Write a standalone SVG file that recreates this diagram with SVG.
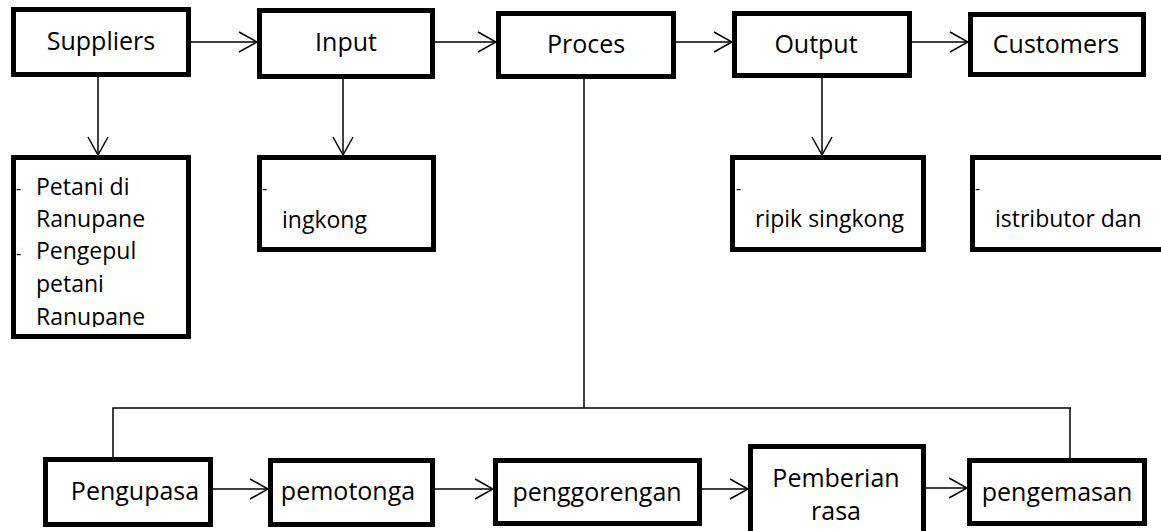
<svg xmlns="http://www.w3.org/2000/svg" width="1161" height="531" viewBox="0 0 1161 531">
<style>
.box{fill:#fff;stroke:#000;stroke-width:5}
.t{font-family:"Open Sans","Noto Sans",sans-serif;font-size:25px;fill:#000}
.s{font-family:"Open Sans","Noto Sans",sans-serif;font-size:23px;fill:#000}
.c{text-anchor:middle}
.d{font-family:"Open Sans","Noto Sans",sans-serif;font-size:16px;fill:#000}
.ln{fill:none;stroke:#000;stroke-width:1.5}
</style>
<defs>
<marker id="ah" markerUnits="userSpaceOnUse" viewBox="0 0 20 22" refX="19" refY="11" markerWidth="20" markerHeight="22" orient="auto">
<path d="M1,1 L19,11 L1,21" fill="none" stroke="#000" stroke-width="1.5"/>
</marker>
<clipPath id="clipSup"><rect x="16" y="160" width="170" height="167"/></clipPath>
</defs>
<rect width="1161" height="531" fill="#fff"/>
<g id="connectors">
<line class="ln" x1="191" y1="42" x2="257" y2="42" marker-end="url(#ah)"/>
<line class="ln" x1="435" y1="42" x2="496" y2="42" marker-end="url(#ah)"/>
<line class="ln" x1="676" y1="42" x2="732" y2="42" marker-end="url(#ah)"/>
<line class="ln" x1="912" y1="42" x2="968" y2="42" marker-end="url(#ah)"/>
<line class="ln" x1="98" y1="77" x2="98" y2="155" marker-end="url(#ah)"/>
<line class="ln" x1="343" y1="79" x2="343" y2="155" marker-end="url(#ah)"/>
<line class="ln" x1="822" y1="78" x2="822" y2="155" marker-end="url(#ah)"/>
<polyline class="ln" points="584,79 584,408"/>
<polyline class="ln" points="113,458 113,408 1071,408"/>
<line class="ln" x1="1070" y1="408" x2="1070" y2="458"/>
<line class="ln" x1="213" y1="489" x2="268" y2="489" marker-end="url(#ah)"/>
<line class="ln" x1="435" y1="489" x2="493" y2="489" marker-end="url(#ah)"/>
<line class="ln" x1="702" y1="489" x2="748" y2="489" marker-end="url(#ah)"/>
<line class="ln" x1="926" y1="488" x2="967" y2="488" marker-end="url(#ah)"/>
</g>
<g id="suppliers"><rect class="box" x="13.5" y="9.5" width="175" height="65"/><text class="t c" x="101" y="50">Suppliers</text></g>
<g id="input"><rect class="box" x="259.5" y="10.5" width="173" height="66"/><text class="t c" x="346" y="51">Input</text></g>
<g id="proces"><rect class="box" x="498.5" y="13.5" width="175" height="63"/><text class="t c" x="586" y="53">Proces</text></g>
<g id="output"><rect class="box" x="734.5" y="13.5" width="175" height="62"/><text class="t c" x="816" y="53">Output</text></g>
<g id="customers"><rect class="box" x="970.5" y="14.5" width="173" height="60"/><text class="t c" x="1056" y="53">Customers</text></g>
<g id="suppliers-detail"><rect class="box" x="13.5" y="157.5" width="175" height="179"/>
<g clip-path="url(#clipSup)">
<text class="d" x="16" y="194">-</text><text class="s" x="36" y="195">Petani di</text>
<text class="s" x="36" y="227">Ranupane</text>
<text class="d" x="16" y="259">-</text><text class="s" x="36" y="259">Pengepul</text>
<text class="s" x="36" y="292">petani</text>
<text class="s" x="36" y="325">Ranupane</text>
</g></g>
<g id="input-detail"><rect class="box" x="259.5" y="157.5" width="174" height="92"/><text class="d" x="262" y="194">-</text><text class="s" x="282" y="228">ingkong</text></g>
<g id="output-detail"><rect class="box" x="732.5" y="157.5" width="191" height="92"/><text class="d" x="736" y="194">-</text><text class="s" x="755" y="227">ripik singkong</text></g>
<g id="customers-detail"><rect class="box" x="972.5" y="157.5" width="195" height="92"/><text class="d" x="975" y="194">-</text><text class="s" x="995" y="227">istributor dan</text></g>
<g id="pengupasa"><rect class="box" x="45.5" y="459.5" width="165" height="65"/><text class="t c" x="135" y="500">Pengupasa</text></g>
<g id="pemotonga"><rect class="box" x="270.5" y="460.5" width="162" height="64"/><text class="t c" x="348" y="500">pemotonga</text></g>
<g id="penggorengan"><rect class="box" x="495.5" y="460.5" width="204" height="63"/><text class="t c" x="597" y="501">penggorengan</text></g>
<g id="pemberian"><rect class="box" x="750.5" y="446.5" width="173" height="100"/><text class="t c" x="836" y="487">Pemberian</text><text class="t c" x="836" y="520">rasa</text></g>
<g id="pengemasan"><rect class="box" x="969.5" y="460.5" width="175" height="63"/><text class="t c" x="1057" y="501">pengemasan</text></g>
</svg>
